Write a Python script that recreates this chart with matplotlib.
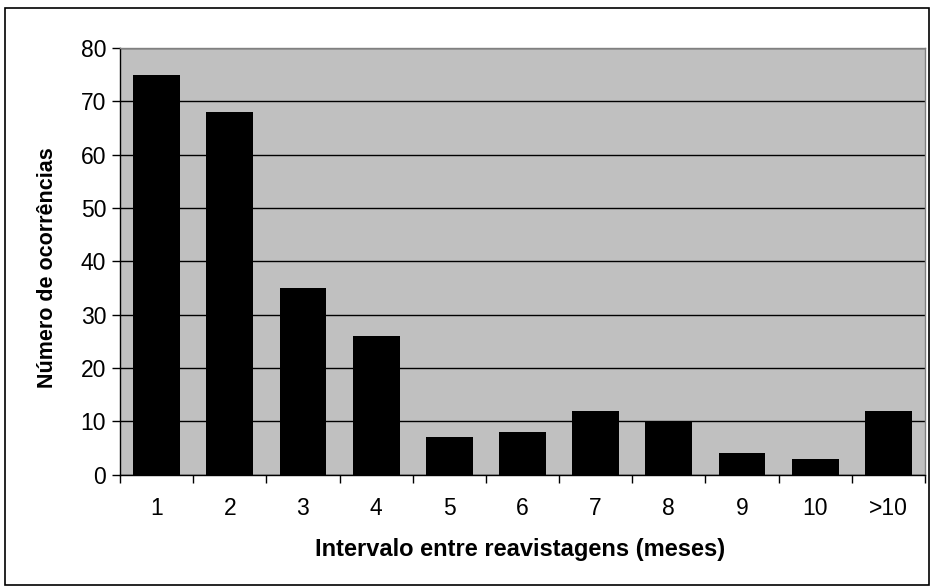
import matplotlib
matplotlib.use("Agg")
import matplotlib.pyplot as plt
from matplotlib.patches import Rectangle
from matplotlib.ticker import FixedLocator

categories = ["1", "2", "3", "4", "5", "6", "7", "8", "9", "10", ">10"]
values = [75, 68, 35, 26, 7, 8, 12, 10, 4, 3, 12]
yticks = [0, 10, 20, 30, 40, 50, 60, 70, 80]

plt.rcParams['font.family'] = ['Liberation Sans', 'DejaVu Sans']

fig = plt.figure(figsize=(9.31, 5.87), dpi=100)
W, H = 931, 587
L, R, T, B = 120, 925, 48, 474.5
ax = fig.add_axes([L / W, 1 - B / H, (R - L) / W, (B - T) / H])
ax.set_facecolor('#c0c0c0')

x = list(range(len(categories)))
ax.bar(x, values, width=0.64, color='black', zorder=3)

ax.set_xlim(-0.5, len(categories) - 0.5)
ax.set_ylim(0, 80)
ax.set_yticks(yticks)
ax.yaxis.grid(True, color='black', linewidth=1, zorder=1)
ax.set_axisbelow(True)

ax.set_xticks(x)
ax.set_xticklabels(categories, fontsize=16.5)
ax.tick_params(axis='x', which='major', length=0, pad=16.5)
ax.xaxis.set_minor_locator(FixedLocator([i - 0.5 for i in range(len(categories) + 1)]))
ax.tick_params(axis='x', which='minor', length=6, width=1, color='black', direction='out')
ax.tick_params(axis='y', length=6, width=1, direction='out', labelsize=16.5, pad=4)

for s in ['top', 'right']:
    ax.spines[s].set_color('#808080')
    ax.spines[s].set_linewidth(1)
for s in ['left', 'bottom']:
    ax.spines[s].set_color('black')
    ax.spines[s].set_linewidth(1)

ax.set_xlabel('Intervalo entre reavistagens (meses)', fontsize=17, fontweight='bold')
ax.xaxis.set_label_coords((520 - L) / (R - L), (B - 538) / (B - T))
ax.set_ylabel('Número de ocorrências', fontsize=15.5, fontweight='bold')
ax.yaxis.set_label_coords((58 - L) / (R - L), (B - 267.5) / (B - T))

fig.patches.append(Rectangle((5 / W, 1 - 585 / H), (929 - 5) / W, (585 - 8) / H,
                             transform=fig.transFigure, fill=False, edgecolor='black', linewidth=1.2))

fig.savefig('out.png', dpi=100)
